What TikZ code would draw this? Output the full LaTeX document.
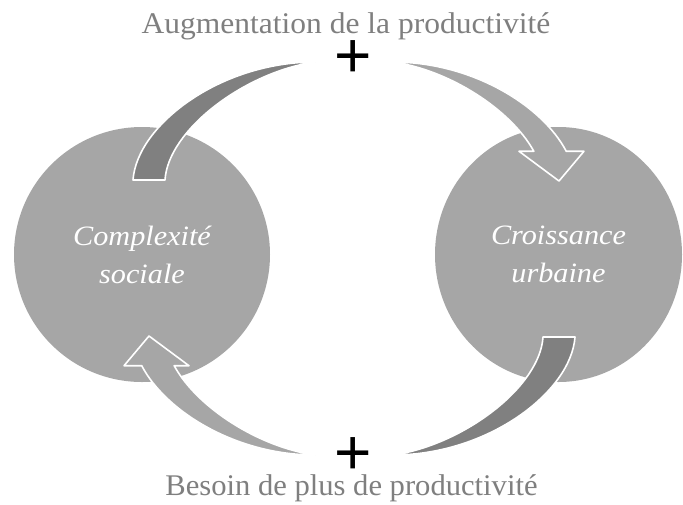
\documentclass[tikz,border=0pt]{standalone}
\usepackage{fontspec}
\setmainfont{Liberation Serif}
\newfontfamily\labfont[FakeStretch=1.05]{Liberation Serif}
\newfontfamily\labfontb[FakeStretch=1.02]{Liberation Serif}
\newfontfamily\circfont[FakeStretch=1.08]{Liberation Serif}
\newfontfamily\plusfont{Liberation Sans}
\usetikzlibrary{shapes.geometric}
\definecolor{cgray}{HTML}{A6A6A6}
\definecolor{agray}{HTML}{808080}
\definecolor{tgray}{HTML}{7F7F7F}
\begin{document}
\begin{tikzpicture}[x=1pt,y=-1pt,
  circ/.style={ellipse, fill=cgray, draw=none, inner sep=0pt, text=white, align=center,
    font=\circfont\itshape\fontsize{28}{38}\selectfont},
  darkarrow/.style={fill=agray, draw=white, line width=1.6pt, line join=round},
  lightarrow/.style={fill=cgray, draw=white, line width=1.6pt, line join=round},
  lab/.style={text=tgray, font=\labfont\fontsize{30}{36}\selectfont, anchor=base, inner sep=0pt},
  labb/.style={lab, font=\labfontb\fontsize{30}{36}\selectfont},
  plussign/.style={text=black, font=\plusfont\fontsize{64}{64}\selectfont, inner sep=0pt}
]
\useasboundingbox (0,0) rectangle (683,504);
\fill[white] (0,0) rectangle (683,504);

% circles
\node[circ, minimum width=256pt, minimum height=255pt] (L) at (142,254.5) {Complexité\\sociale};
\node[circ, minimum width=247pt, minimum height=255pt] (R) at (558.5,254.5) {Croissance\\urbaine};

% top arrows
\path[darkarrow] (133,180) .. controls (137,125) and (220,62) .. (315,62)
   .. controls (245,72) and (168,130) .. (165,180) -- cycle;
\path[lightarrow] (393,62) .. controls (471.66,62) and (542.09,105.19) .. (566.26,151.27)
   -- (584,151.27) -- (559,181) -- (519,151.27) -- (533.83,151.27)
   .. controls (511,109.69) and (449.7,70.1) .. (393,62) -- cycle;

% bottom arrows (point reflection)
\begin{scope}[rotate around={180:(354,258.5)}]
\path[darkarrow] (133,180) .. controls (137,125) and (220,62) .. (315,62)
   .. controls (245,72) and (168,130) .. (165,180) -- cycle;
\path[lightarrow] (393,62) .. controls (471.66,62) and (542.09,105.19) .. (566.26,151.27)
   -- (584,151.27) -- (559,181) -- (519,151.27) -- (533.83,151.27)
   .. controls (511,109.69) and (449.7,70.1) .. (393,62) -- cycle;
\end{scope}

% labels
\node[lab] (top) at (346,33) {Augmentation de la productivité};
\node[labb] (bot) at (351.5,495) {Besoin de plus de productivité};
\node[plussign] (p1) at (353,59) {+};
\node[plussign] (p2) at (353,456) {+};
\end{tikzpicture}
\end{document}
